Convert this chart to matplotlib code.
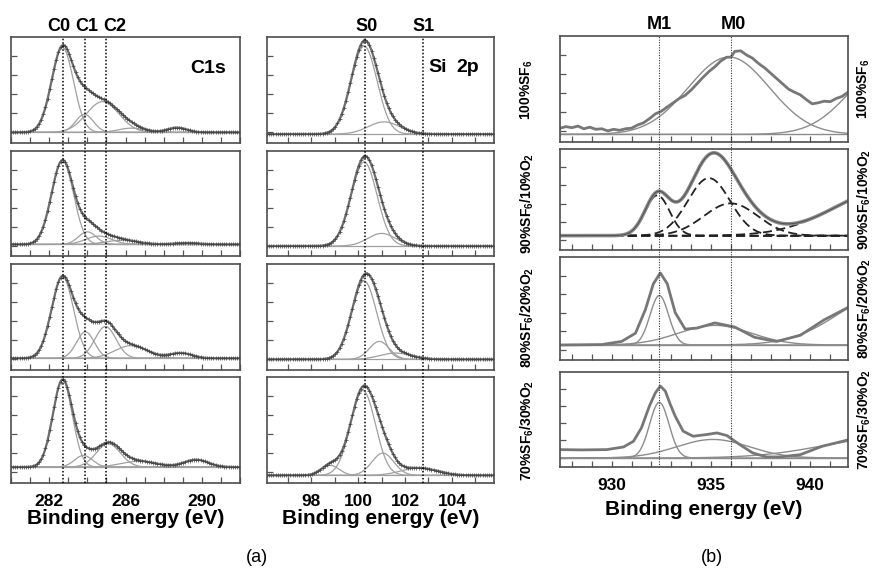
import numpy as np
import matplotlib.pyplot as plt

plt.rcParams['font.family'] = ['Liberation Sans', 'DejaVu Sans']
plt.rcParams['font.weight'] = 'bold'
plt.rcParams['mathtext.default'] = 'regular'

W, H = 875, 568

samples = ["100%SF$_6$", "90%SF$_6$/10%O$_2$", "80%SF$_6$/20%O$_2$", "70%SF$_6$/30%O$_2$"]

# C 1s fitted components per sample: centre (eV), height, FWHM (eV)
c1s_center = [[282.7, 283.85, 284.8, 286.3, 288.7],
              [282.7, 284.0, 284.6, 285.8, 289.2],
              [282.7, 283.9, 284.95, 286.3, 288.9],
              [282.7, 283.8, 285.1, 286.7, 289.7]]
c1s_height = [[0.80, 0.17, 0.29, 0.04, 0.045],
              [0.80, 0.12, 0.08, 0.04, 0.015],
              [0.77, 0.25, 0.30, 0.12, 0.05],
              [0.82, 0.11, 0.22, 0.055, 0.07]]
c1s_fwhm = [[1.35, 1.1, 2.0, 1.6, 1.2],
            [1.35, 1.1, 1.6, 2.0, 1.5],
            [1.35, 1.1, 1.3, 2.0, 1.4],
            [1.2, 1.1, 1.5, 2.2, 1.5]]
c1s_base = [0.10, 0.11, 0.11, 0.15]
c1s_marks = [282.7, 283.9, 285.0]
c1s_mark_labels = ["C0", "C1", "C2"]

# Si 2p
si_center = [[100.25, 101.1], [100.25, 101.0], [100.25, 100.9, 101.6], [100.2, 101.05, 98.8, 102.6]]
si_height = [[0.83, 0.115], [0.80, 0.12], [0.74, 0.17, 0.06], [0.80, 0.21, 0.095, 0.07]]
si_fwhm = [[1.3, 1.6], [1.3, 1.4], [1.25, 1.0, 1.6], [1.25, 1.1, 0.9, 1.8]]
si_base = [0.084, 0.095, 0.10, 0.072]
si_marks = [100.3, 102.75]
si_mark_labels = ["S0", "S1"]

# (b) panel components
m_center = [[935.9, 944.0], [932.3, 934.9, 936.0, 944.0], [932.4, 935.2, 944.0], [932.4, 935.1, 944.0]]
m_height = [[0.73, 0.66], [0.40, 0.57, 0.32, 0.46], [0.48, 0.19, 0.51], [0.585, 0.195, 0.213]]
m_fwhm = [[4.8, 4.7], [1.45, 2.5, 3.2, 6.5], [1.1, 4.3, 5.9], [1.15, 4.3, 7.9]]
m_base = [0.072, 0.142, 0.146, 0.095]
m_marks = [932.4, 936.0]
m_mark_labels = ["M1", "M0"]

m_meas_x = [
    [927.4, 927.7, 928.0, 928.3, 928.6, 928.9, 929.2, 929.5, 929.8, 930.1, 930.4, 930.7, 931.0,
     931.3, 931.6, 931.9, 932.2, 932.5, 932.8, 933.1, 933.4, 933.7, 934.0, 934.3, 934.6, 934.9,
     935.2, 935.5, 935.8, 936.0, 936.2, 936.5, 936.8, 937.1, 937.4, 937.7, 938.0, 938.3, 938.6,
     938.9, 939.2, 939.5, 939.8, 940.1, 940.4, 940.7, 941.0, 941.3, 941.6, 941.9],
    None,
    [927.4, 929.5, 930.5, 931.2, 931.7, 932.1, 932.45, 932.8, 933.2, 933.7, 934.3, 935.2,
     936.2, 937.2, 938.3, 939.5, 940.7, 941.9],
    [927.4, 928.5, 929.75, 930.6, 931.1, 931.5, 931.9, 932.2, 932.45, 932.7, 932.95, 933.2,
     933.6, 934.1, 934.8, 935.3, 935.8, 936.45, 937.1, 937.8, 938.45, 939.5, 940.6, 941.9],
]
m_meas_y = [
    [0.13, 0.145, 0.135, 0.15, 0.125, 0.14, 0.12, 0.125, 0.105, 0.12, 0.11, 0.125, 0.13,
     0.16, 0.18, 0.22, 0.265, 0.29, 0.33, 0.37, 0.41, 0.44, 0.49, 0.55, 0.61, 0.665,
     0.71, 0.765, 0.80, 0.80, 0.855, 0.86, 0.82, 0.79, 0.74, 0.70, 0.65, 0.60, 0.55,
     0.50, 0.47, 0.445, 0.40, 0.36, 0.37, 0.385, 0.38, 0.41, 0.43, 0.47],
    None,
    [0.146, 0.15, 0.18, 0.26, 0.49, 0.74, 0.845, 0.74, 0.46, 0.30, 0.31, 0.36,
     0.32, 0.22, 0.18, 0.24, 0.39, 0.51],
    [0.183, 0.18, 0.183, 0.211, 0.271, 0.412, 0.641, 0.78, 0.852, 0.80, 0.66, 0.535,
     0.377, 0.324, 0.342, 0.359, 0.331, 0.236, 0.148, 0.106, 0.106, 0.13, 0.218, 0.285],
]

rows_a = [(37, 143), (151, 256), (264, 370), (377, 483)]
rows_b = [(36, 142), (149, 250), (257, 360), (372, 467)]

MEAS = '#6e6e6e'
COMP = '#a0a0a0'


def rect(l, r, t, b):
    return [l / W, 1 - b / H, (r - l) / W, (b - t) / H]


def gauss(x, c, h, w):
    return h * np.exp(-4 * np.log(2) * ((x - c) / w) ** 2)


def style(ax, xlim, major, minor, bottom, labelpad):
    ax.set_xlim(xlim)
    ax.set_ylim(0, 1)
    ax.set_xticks(major)
    ax.set_xticks(minor, minor=True)
    ax.set_yticks([0.1, 0.28, 0.46, 0.64, 0.82])
    ax.set_yticklabels([])
    ax.tick_params(which='both', direction='in', length=4, width=0.9, color='#555')
    ax.tick_params(axis='x', labelsize=12.5, pad=8)
    if bottom:
        ax.set_xlabel('Binding energy (eV)', fontsize=15, fontweight='bold', labelpad=labelpad)
    else:
        ax.set_xticklabels([])
    for s in ax.spines.values():
        s.set_color('#4d4d4d')
        s.set_linewidth(1.2)


def marks(left, right, rows, xlim, xs, labels, color, lw, off, shifts):
    ov = fig.add_axes(rect(left, right, rows[0][0], rows[-1][1]), zorder=5)
    ov.set_xlim(xlim)
    ov.set_ylim(0, 1)
    ov.axis('off')
    for x, lab, dx in zip(xs, labels, shifts):
        ov.axvline(x, color=color, lw=lw, ls=(0, (1, 1.3)))
        ov.annotate(lab, xy=(x, 1), xycoords=('data', 'axes fraction'), xytext=(dx, off),
                    textcoords='offset points', ha='center', va='bottom',
                    fontsize=13, fontweight='bold')


def fit_column(left, right, xlim, major, minor, centers, heights, widths, bases):
    x = np.linspace(xlim[0], xlim[1], 320)
    axes = []
    for i, (t, b) in enumerate(rows_a):
        ax = fig.add_axes(rect(left, right, t, b))
        base = bases[i]
        env = np.full_like(x, base)
        ax.plot(x, env, color=COMP, lw=0.9)
        for c, h, w in zip(centers[i], heights[i], widths[i]):
            comp = gauss(x, c, h, w)
            env = env + comp
            ax.plot(x, base + comp, color=COMP, lw=0.9)
        ax.plot(x, env, color=MEAS, lw=1.6, marker='+', ms=2.5, mew=0.5,
                mec='#444', markevery=3)
        style(ax, xlim, major, minor, i == 3, 0)
        axes.append(ax)
    return axes


fig = plt.figure(figsize=(W / 100, H / 100), dpi=100)

# (a) C 1s
ax_c = fit_column(11, 240, (280.0, 292.0), [282, 286, 290], range(280, 293),
                  c1s_center, c1s_height, c1s_fwhm, c1s_base)
ax_c[0].text(0.86, 0.70, 'C1s', transform=ax_c[0].transAxes, ha='center', va='center',
             fontsize=14, fontweight='bold')
marks(11, 240, rows_a, (280.0, 292.0), c1s_marks, c1s_mark_labels, 'black', 1.1, 1.5, [-3, 1, 6])

# (a) Si 2p
ax_s = fit_column(267, 494, (96.1, 105.8), [98, 100, 102, 104], range(97, 106),
                  si_center, si_height, si_fwhm, si_base)
ax_s[0].text(0.75, 0.71, 'Si', transform=ax_s[0].transAxes, ha='center', va='center',
             fontsize=14, fontweight='bold')
ax_s[0].text(0.885, 0.71, '2p', transform=ax_s[0].transAxes, ha='center', va='center',
             fontsize=14, fontweight='bold')
marks(267, 494, rows_a, (96.1, 105.8), si_marks, si_mark_labels, 'black', 1.1, 1.5, [1, 1])

# (b)
xb = (927.4, 941.9)
xm = np.linspace(xb[0], xb[1], 320)
for i, (t, b) in enumerate(rows_b):
    ax = fig.add_axes(rect(560, 848, t, b))
    base = m_base[i]
    env = np.full_like(xm, base)
    dashed = i == 1
    cstyle = dict(color='#222', lw=1.3, ls=(0, (5, 2.5))) if dashed else dict(color='#8c8c8c', lw=1.0)
    ax.plot(xm, env, **cstyle)
    for c, h, w in zip(m_center[i], m_height[i], m_fwhm[i]):
        comp = gauss(xm, c, h, w)
        env = env + comp
        ax.plot(xm, base + comp, **cstyle)
    if m_meas_x[i] is None:
        ax.plot(xm, env, color='#8a8a8a', lw=2.6)
        ax.plot(xm, env, color='#555', lw=0.8)
    else:
        ax.plot(m_meas_x[i], m_meas_y[i], color='#777', lw=2.0)
    style(ax, xb, [930, 935, 940], range(928, 942), i == 3, 5)
marks(560, 848, rows_b, xb, m_marks, m_mark_labels, '#333', 0.8, 2, [0, 2])

# sample labels
for lab, (t, b) in zip(samples, rows_a):
    fig.text(527 / W, 1 - (t + b) / 2 / H, lab, rotation=90, ha='center', va='center',
             fontsize=10, fontweight='bold')
for lab, (t, b) in zip(samples, rows_b):
    fig.text(864 / W, 1 - (t + b) / 2 / H, lab, rotation=90, ha='center', va='center',
             fontsize=10, fontweight='bold')

fig.text(257 / W, 1 - 557 / H, '(a)', ha='center', va='center', fontsize=13, fontweight='normal')
fig.text(712 / W, 1 - 557 / H, '(b)', ha='center', va='center', fontsize=13, fontweight='normal')

fig.savefig('out.png', dpi=100)
